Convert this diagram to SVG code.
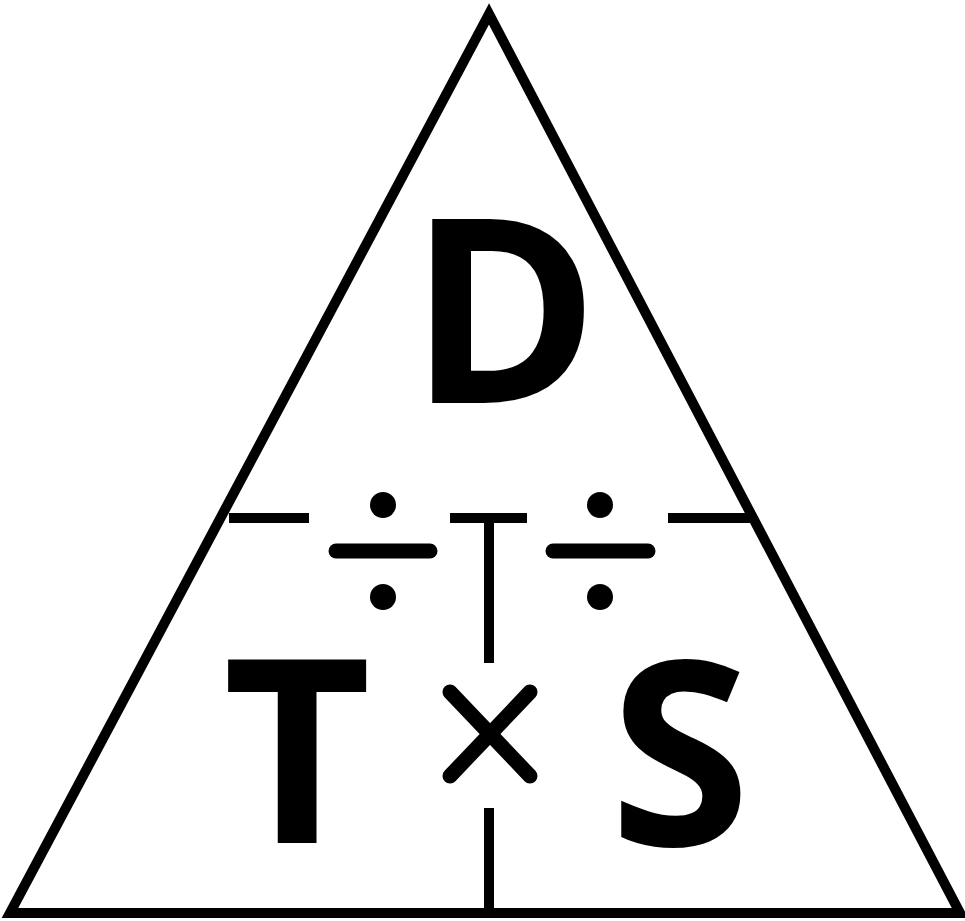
<svg xmlns="http://www.w3.org/2000/svg" width="965" height="921" viewBox="0 0 965 921">
<style>
.ln{stroke:#000;stroke-width:10;fill:none}
.bar{stroke:#000;stroke-width:15;stroke-linecap:round;fill:none}
.lt{font-family:"Open Sans","Liberation Sans",sans-serif;font-weight:bold;font-size:256px;fill:#000;text-anchor:middle}
</style>
<rect width="965" height="921" fill="#fff"/>
<g id="connectors">
<polygon class="ln" points="489,14 10,913 960,913" stroke-linejoin="miter"/>
<line class="ln" x1="229" y1="518" x2="309" y2="518"/>
<line class="ln" x1="668" y1="518" x2="752" y2="518"/>
<line class="ln" x1="450" y1="518" x2="527" y2="518"/>
<line class="ln" x1="489" y1="518" x2="489" y2="663"/>
<line class="ln" x1="489" y1="808" x2="489" y2="913"/>
</g>
<g id="div-left">
<circle cx="383" cy="505" r="13"/>
<line class="bar" x1="336" y1="551" x2="430" y2="551"/>
<circle cx="383" cy="597" r="13"/>
</g>
<g id="div-right">
<circle cx="600" cy="505" r="13"/>
<line class="bar" x1="553" y1="551" x2="648" y2="551"/>
<circle cx="600" cy="597" r="13"/>
</g>
<g id="times">
<line class="bar" stroke-width="13" x1="450" y1="692" x2="530" y2="776"/>
<line class="bar" stroke-width="13" x1="530" y1="692" x2="450" y2="776"/>
</g>
<g id="D"><text class="lt" x="504" y="403">D</text></g>
<g id="T"><text class="lt" x="297" y="843">T</text></g>
<g id="S"><text class="lt" x="680" y="845">S</text></g>
</svg>
